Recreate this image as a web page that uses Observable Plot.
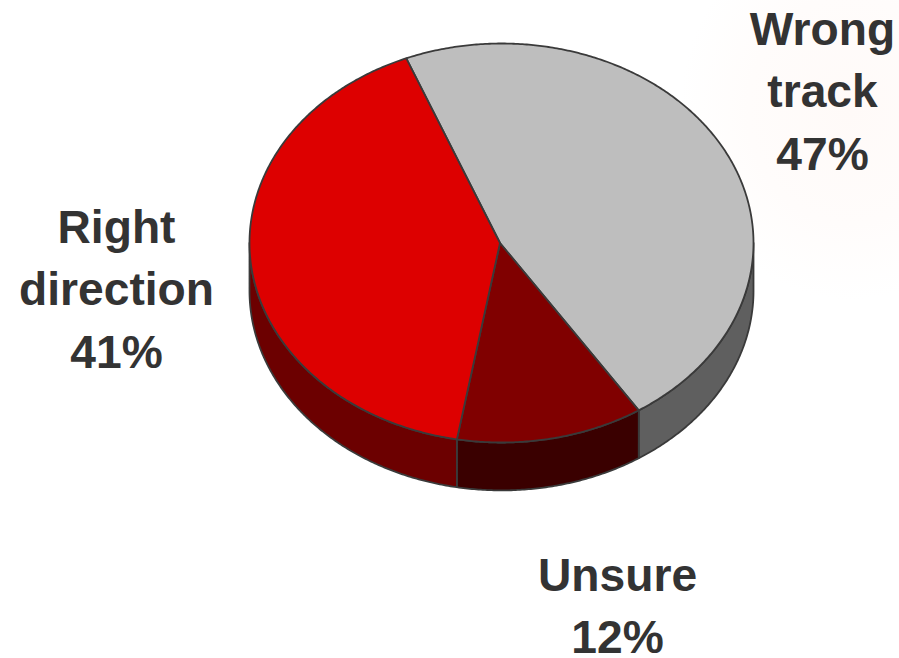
<!DOCTYPE html>
<html>
<head>
<meta charset="utf-8">
<style>
html,body{margin:0;padding:0;background:#fff;}
#chart{width:899px;height:658px;background:radial-gradient(ellipse 170px 190px at 850px 110px,#fffaf8 0%,#fffcfb 60%,#ffffff 100%);}
svg{display:block;background:transparent!important;}
</style>
<script src="https://cdn.jsdelivr.net/npm/d3@7"></script>
<script src="https://cdn.jsdelivr.net/npm/@observablehq/plot@0.6"></script>
</head>
<body>
<div id="chart"></div>
<script>
const categories = ["Wrong track", "Unsure", "Right direction"];
const values = [47, 12, 41];
const labels = ["Wrong\ntrack\n47%", "Unsure\n12%", "Right\ndirection\n41%"];
const topColors = ["#bebebe", "#800000", "#dd0000"];
const wallColors = ["#5f5f5f", "#3a0000", "#6c0000"];

const startAngle = -22.2;   // degrees clockwise from the top of the ellipse
const depth = 0.24;         // wall height, in units of the ellipse's vertical radius
const apexX = -0.006;       // the reference's wedge apex sits just left of the ellipse centre
const outline = {stroke: "#3a3a3a", strokeWidth: 1.8, strokeLinejoin: "round"};
const labelStyle = {fontFamily: "'Liberation Sans', Arial, sans-serif", fontWeight: "bold", fontSize: 46.2, lineHeight: 1.35, fill: "#333333", textAnchor: "middle", frameAnchor: "top-left"};
const labelOffsets = [[822, 0], [617, 546], [116, 198]];

const total = d3.sum(values);
let cursor = startAngle;
const slices = values.map((v, i) => {
  const a0 = cursor, a1 = cursor + v / total * 360;
  cursor = a1;
  return {i, a0, a1};
});
const rim = (a0, a1, y0 = 0) => {
  const n = Math.max(2, Math.ceil((a1 - a0) / 0.5));
  return d3.range(n + 1).map(k => {
    const a = (a0 + (a1 - a0) * k / n) * Math.PI / 180;
    return {x: Math.sin(a), y: Math.cos(a) - y0};
  });
};
const wedge = s => [{x: apexX, y: 0}, ...rim(s.a0, s.a1)];
const wall = s => {
  const a0 = Math.max(s.a0, 90), a1 = Math.min(s.a1, 270);
  return a1 > a0 ? [...rim(a0, a1), ...rim(a0, a1, depth).reverse()] : [];
};
const pt = {x: "x", y: "y", curve: "linear-closed", ...outline};

const chart = Plot.plot({
  width: 899, height: 658,
  margin: 0,
  style: {background: "transparent"},
  x: {domain: [-1, 1], range: [249, 753], axis: null},
  y: {domain: [-1, 1], range: [442, 43], axis: null},
  marks: [
    ...slices.map(s => Plot.line(wall(s), {...pt, fill: wallColors[s.i]})),
    ...slices.map(s => Plot.line(wedge(s), {...pt, fill: topColors[s.i]})),
    ...labels.map((t, i) => Plot.text([t], {text: d => d, ...labelStyle, dx: labelOffsets[i][0], dy: labelOffsets[i][1]}))
  ]
});
document.getElementById("chart").append(chart);
</script>
</body>
</html>
